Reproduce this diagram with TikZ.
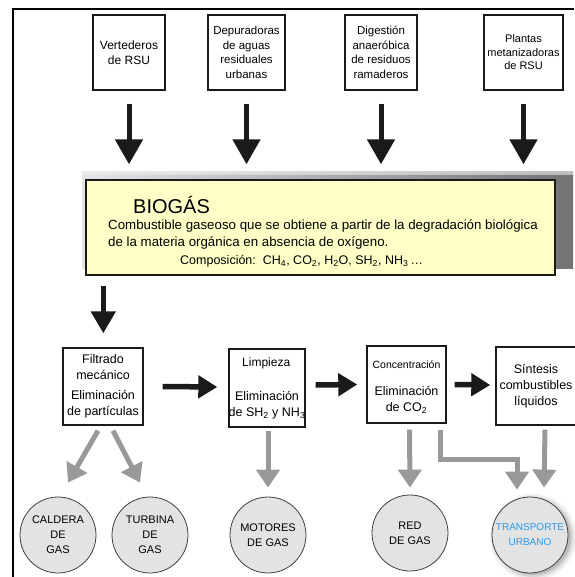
\documentclass[tikz,border=0pt]{standalone}
\usepackage{fontspec}
\setmainfont{Liberation Sans}
\usetikzlibrary{arrows.meta,calc}
\definecolor{biofill}{HTML}{FFFFC8}
\definecolor{circfill}{HTML}{E3E3E3}
\definecolor{garrowc}{HTML}{999999}
\definecolor{blk}{HTML}{1A1A1A}
\definecolor{tblue}{HTML}{2B9AF3}
\begin{document}
\begin{tikzpicture}[x=1pt,y=-1pt,
  srcbox/.style={draw=blk,line width=1.4pt,minimum width=#1,minimum height=75pt,inner sep=0pt,align=center,
     font=\fontsize{12}{14.5}\selectfont},
  procbox/.style={draw=blk,line width=1.4pt,minimum width=#1,minimum height=77pt,inner sep=0pt,align=center,
     font=\fontsize{12.5}{16}\selectfont},
  usecirc/.style={circle,draw=black!75,line width=0.8pt,fill=circfill,minimum size=76pt,inner sep=0pt,align=center,
     font=\fontsize{11}{15}\selectfont},
  txt/.style={inner sep=0pt,align=center},
  barrow/.style={draw=blk,line width=5pt,-{Triangle[width=27pt,length=25pt]}},
  harrow/.style={draw=blk,line width=5.5pt,-{Triangle[width=22pt,length=19pt]}},
  garrow/.style={draw=garrowc,line width=5pt,-{Triangle[width=23pt,length=18pt]}},
]
\useasboundingbox (0,0) rectangle (574,577);
\fill[white] (0,0) rectangle (574,577);
% outer frame
\draw[black,line width=2pt] (13,577) -- (13,9) -- (574,9);

% source boxes
\node[srcbox=72pt] (vert) at (129,52.5) {Vertederos\\de RSU};
\node[srcbox=77pt,font=\fontsize{11.5}{14.5}\selectfont] (depu) at (246.5,52.5) {Depuradoras\\de aguas\\residuales\\urbanas};
\node[srcbox=72pt,font=\fontsize{11.5}{14.5}\selectfont] (dige) at (381,52.5) {Digestión\\anaeróbica\\de residuos\\ramaderos};
\node[srcbox=79pt,font=\fontsize{11}{13.5}\selectfont] (plan) at (523.5,52.5) {Plantas\\metanizadoras\\de RSU};

% biogas shadow
\shade[left color=black!10,right color=black!55] (82,172) rectangle (573,268);
\shade[top color=white,bottom color=black!10,opacity=0.6] (82,169) rectangle (573,175);
\node[draw=blk,line width=1.4pt,fill=biofill,minimum width=469pt,minimum height=95pt,inner sep=0pt] (bio) at (320.5,227.5) {};
\node[txt,anchor=base west,font=\fontsize{20}{24}\selectfont] (biot) at (133,213) {BIOGÁS};
\node[txt,anchor=base west,font=\fontsize{13.3}{17}\selectfont,align=left] (biod) at (108,246.5)
  {Combustible gaseoso que se obtiene a partir de la degradación biológica\\de la materia orgánica en absencia de oxígeno.};
\node[txt,anchor=base west,font=\fontsize{12.5}{14}\selectfont] (bioc) at (180,264.5)
  {Composición:\ \ CH\textsubscript{4}, CO\textsubscript{2}, H\textsubscript{2}O, SH\textsubscript{2}, NH\textsubscript{3}\,\dots};

% arrows into biogas
\foreach \n in {vert,depu,dige,plan}{
  \draw[barrow] ($(\n.south)+(0,13)$) -- ($(\n.south |- bio.north)+(0,-15)$);
}

% process boxes
\node[procbox=80pt] (filt) at (103,386.5) {Filtrado\\mecánico\\[4pt]Eliminación\\de partículas};
\node[procbox=76pt,minimum height=78pt] (limp) at (267,388) {};
\node[txt,anchor=base west,font=\fontsize{12}{14}\selectfont] (limpt) at (242,366) {Limpieza};
\node[txt,anchor=north,font=\fontsize{12.5}{16}\selectfont] (limpd) at (267,391) {Eliminación\\de SH\textsubscript{2} y NH\textsubscript{3}};
\node[procbox=79pt] (conc) at (406.5,384.5) {};
\node[txt,font=\fontsize{10.5}{12}\selectfont] (conct) at (406.5,365) {Concentración};
\node[txt,anchor=north,font=\fontsize{12.5}{16}\selectfont] (concd) at (406.5,386) {Eliminación\\de CO\textsubscript{2}};
\node[procbox=80pt,minimum height=78pt] (sint) at (536,386) {Síntesis\\combustibles\\líquidos};

\draw[barrow,line width=5pt,-{Triangle[width=24pt,length=22pt]}] ($(bio.south west)+(18,10)$) -- ($(bio.south west |- filt.north)+(18,-14)$);
\draw[harrow] ($(filt.east)+(19,0)$) -- ($(limp.west)+(-11,-1)$);
\draw[harrow] ($(limp.east)+(10,-3)$) -- ($(conc.west)+(-9,0)$);
\draw[harrow] ($(conc.east)+(8,0)$) -- ($(sint.west)+(-5,-1)$);

% use circles
\node[usecirc] (cald) at (58,535) {CALDERA\\DE\\GAS};
\node[usecirc] (turb) at (150,535) {TURBINA\\DE\\GAS};
\node[usecirc] (moto) at (268,535) {MOTORES\\DE GAS};
\node[usecirc] (red) at (410,533) {RED\\DE GAS};
\foreach \d/\o in {0/0.12,2/0.08,4/0.05,6/0.03}{
  \fill[black,opacity=\o] (533,537) circle (38+\d);
}
\node[usecirc,text=tblue,font=\fontsize{10}{15}\selectfont] (tran) at (530,535) {TRANSPORTE\\URBANO};

% gray arrows
\draw[garrow] ($(filt.south)+(-5,5)$) -- ($(cald.north)+(10,-14)$);
\draw[garrow] ($(filt.south)+(10,5)$) -- ($(turb.north)+(-10,-14)$);
\draw[garrow] ($(limp.south)+(1,3)$) -- ($(moto.north)+(0,-9)$);
\draw[garrow] ($(conc.south)+(3,6)$) -- ($(red.north)+(0,-7)$);
\draw[garrow] ($(conc.south)+(33.5,6)$) |- ($(tran.north)+(-13,-37)$) -- ($(tran.north)+(-13,-7)$);
\draw[garrow] ($(sint.south)+(9,4)$) -- ($(tran.north)+(14,-9)$);
\end{tikzpicture}
\end{document}
